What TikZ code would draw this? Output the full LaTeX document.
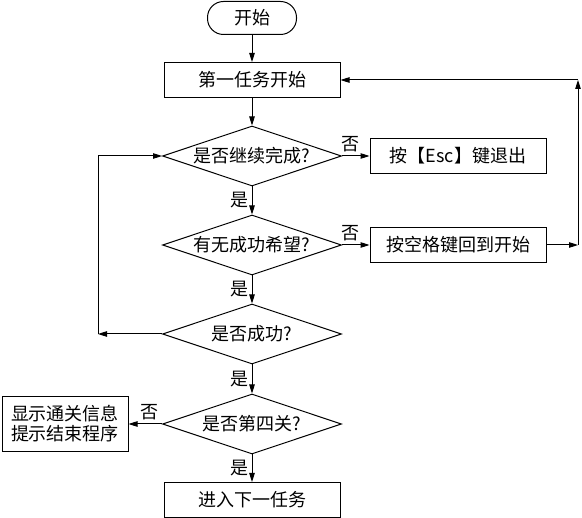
\documentclass[tikz,border=0pt]{standalone}
\usepackage{fontspec}
\newfontfamily\cjk{Noto Sans CJK SC}
\usetikzlibrary{shapes.geometric,arrows.meta}

\begin{document}
\begin{tikzpicture}[x=1pt,y=-1pt,
  every node/.style={font=\cjk\fontsize{18}{20}\selectfont},
  startbox/.style={draw,rectangle,rounded corners=16pt,minimum width=89pt,minimum height=33pt,line width=1pt},
  taskbox/.style={draw,rectangle,minimum width=176pt,minimum height=35pt,inner sep=0pt,line width=1pt},
  decision/.style={draw,diamond,aspect=3,minimum width=179pt,minimum height=60pt,inner sep=0pt,line width=1pt},
  flow/.style={-{Triangle[length=9pt,width=5.5pt]},line width=1pt}
]
\useasboundingbox (0,0) rectangle (582,518);

% Nodes
\node[startbox] (start) at (252,18) {开始};
\node[taskbox] (first) at (252,80) {第一任务开始};
\node[decision] (goon) at (252,156) {是否继续完成?};
\node[taskbox] (esc) at (458,156) {按【Esc】键退出};
\node[decision] (hope) at (252,245) {有无成功希望?};
\node[taskbox] (space) at (458,245) {按空格键回到开始};
\node[decision] (success) at (252,334) {是否成功?};
\node[decision] (fourth) at (252,424) {是否第四关?};
\node[taskbox,minimum width=126pt,minimum height=55pt,align=center] (info) at (65,424) {显示通关信息\\提示结束程序};
\node[taskbox] (next) at (252,500) {进入下一任务};

% Corners of the loops
\coordinate (lefttop) at (98,156); \coordinate (leftbot) at (98,334);
\coordinate (righttop) at (578,80); \coordinate (rightbot) at (578,245);

% Main flow
\draw[flow] (start) -- (first);
\draw[flow] (first) -- (goon);
\draw[flow] (goon) -- node[left]{是} (hope);
\draw[flow] (hope) -- node[left]{是} (success);
\draw[flow] (success) -- node[left]{是} (fourth);
\draw[flow] (fourth) -- node[left]{是} (next);

% Branches
\draw[flow] (goon) -- node[pos=0.3,above]{否} (esc);
\draw[flow] (hope) -- node[pos=0.3,above]{否} (space);
\draw[flow] (fourth) -- node[pos=0.37,above]{否} (info);

% Loops
\draw[flow] (success.west) -- (leftbot);
\draw[line width=1pt] (leftbot) -- (lefttop);
\draw[flow] (lefttop) -- (goon.west);
\draw[flow] (space.east) -- (rightbot);
\draw[flow] (rightbot) -- (righttop);
\draw[flow] (righttop) -- (first.east);
\end{tikzpicture}
\end{document}
